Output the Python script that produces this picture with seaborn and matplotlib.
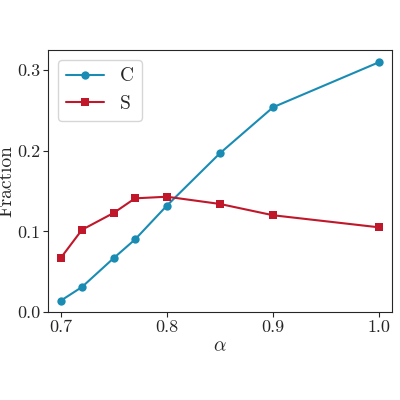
import matplotlib
matplotlib.use("Agg")
import matplotlib.pyplot as plt
import seaborn as sns
import pandas as pd

alpha = [0.70, 0.72, 0.75, 0.77, 0.80, 0.85, 0.90, 1.00]
c_vals = [0.014, 0.031, 0.067, 0.090, 0.132, 0.197, 0.254, 0.310]
s_vals = [0.067, 0.102, 0.123, 0.141, 0.143, 0.134, 0.120, 0.105]

sns.set_style("ticks")
plt.rcParams['font.family'] = ['cmr10', 'DejaVu Serif']
plt.rcParams['mathtext.fontset'] = 'cm'
plt.rcParams['axes.formatter.use_mathtext'] = True

df = pd.DataFrame({"alpha": alpha * 2, "val": c_vals + s_vals,
                   "series": ["C"] * len(alpha) + ["S"] * len(alpha)})

fig = plt.figure(figsize=(4, 4), dpi=100)
ax = fig.add_axes([0.12, 0.22, 0.86, 0.655])
sns.lineplot(data=df, x="alpha", y="val", hue="series", style="series",
             markers={"C": "o", "S": "s"}, dashes=False,
             palette={"C": "#1a8cb4", "S": "#c0172a"}, markersize=6,
             markeredgewidth=0, ax=ax)
ax.set_xlim(0.688, 1.012)
ax.set_ylim(0, 0.325)
ax.set_xticks([0.7, 0.8, 0.9, 1.0])
ax.set_xticklabels(["0.7", "0.8", "0.9", "1.0"])
ax.set_yticks([0.0, 0.1, 0.2, 0.3])
ax.set_yticklabels(["0.0", "0.1", "0.2", "0.3"])
ax.tick_params(labelsize=13, pad=2)
ax.set_xlabel(r"$\alpha$", fontsize=14, labelpad=2)
ax.set_ylabel("Fraction", fontsize=14, labelpad=1)
leg = ax.legend(title=None, fontsize=14, loc="upper left")
fig.savefig("out.png", dpi=100)
